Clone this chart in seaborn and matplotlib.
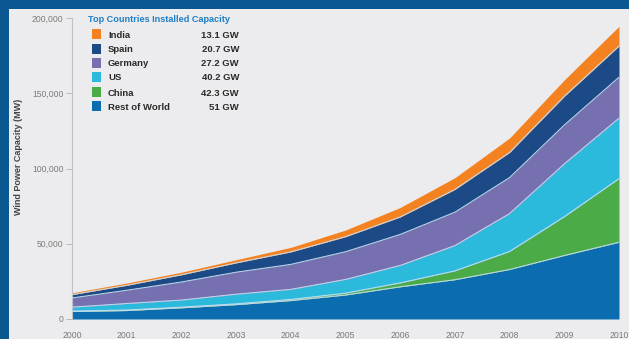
import numpy as np
import pandas as pd
import matplotlib
matplotlib.use("Agg")
import matplotlib.pyplot as plt
from matplotlib.patches import Rectangle
import seaborn as sns

# ---------------- data ----------------
years = [2000, 2001, 2002, 2003, 2004, 2005, 2006, 2007, 2008, 2009, 2010]
rest_of_world = [4950, 5600, 7430, 9530, 12240, 15940, 21400, 26100, 32900, 42200, 51000]
china = [350, 400, 470, 570, 760, 1260, 2600, 5900, 12000, 25800, 42300]
us = [2600, 4300, 4700, 6400, 6700, 9100, 11600, 16800, 25200, 35100, 40200]
germany = [6100, 8800, 12000, 14600, 16600, 18400, 20600, 22200, 23900, 25800, 27200]
spain = [2200, 3300, 4800, 6200, 8300, 10000, 11600, 15100, 16700, 19100, 20700]
india = [1200, 1500, 1700, 2100, 3000, 4400, 6300, 7800, 9600, 10900, 13100]

legend_title = "Top Countries Installed Capacity"
legend_names = ["India", "Spain", "Germany", "US", "China", "Rest of World"]
legend_values = ["13.1 GW", "20.7 GW", "27.2 GW", "40.2 GW", "42.3 GW", "51 GW"]
y_ticks = [0, 50000, 100000, 150000, 200000]
y_tick_labels = ["0", "50,000", "100,000", "150,000", "200,000"]
y_label = "Wind Power Capacity (MW)"

# ---------------- style ----------------
col_row = "#0b6cb0"
col_china = "#4aab47"
col_us = "#2bb9dc"
col_germany = "#7670b1"
col_spain = "#1c4a86"
col_india = "#f58220"
layer_colors = [col_row, col_china, col_us, col_germany, col_spain, col_india]
legend_colors = [col_india, col_spain, col_germany, col_us, col_china, col_row]

sns.set_theme(style="white")
plt.rcParams["font.family"] = ["Liberation Sans", "DejaVu Sans"]

W, H = 629, 339
fig = plt.figure(figsize=(W / 100, H / 100), dpi=100)
fig.patch.set_facecolor("#0b5791")
# light panel
panel = Rectangle((9 / W, 0), 1 - 9 / W, (H - 9) / H,
                  transform=fig.transFigure, facecolor="#ececee",
                  edgecolor="none", zorder=-10)
fig.patches.append(panel)

x0, x1 = 72, 619
yb, yt = 319, 18
ax = fig.add_axes([x0 / W, (H - yb) / H, (x1 - x0) / W, (yb - yt) / H])
ax.set_zorder(2)
ax.set_facecolor("none")

layers = [rest_of_world, china, us, germany, spain, india]
ax.stackplot(years, *layers, colors=layer_colors, linewidth=0, zorder=2)

# boundary lines between layers via seaborn
cum = np.cumsum(np.array(layers, dtype=float), axis=0)
df = pd.DataFrame({"year": np.tile(years, 5), "value": cum[:5].ravel(),
                   "layer": np.repeat(np.arange(5), len(years))})
sns.lineplot(data=df, x="year", y="value", units="layer", estimator=None,
             color="#c4dcf0", linewidth=0.7, ax=ax, zorder=3, legend=False)

ax.set_xlim(2000, 2010)
ax.set_ylim(0, 200000)
ax.set_xticks(years)
ax.set_xticklabels([str(y) for y in years], fontsize=6.2, color="#7a7a7a")
ax.set_yticks(y_ticks)
ax.set_yticklabels(y_tick_labels, fontsize=6.2, color="#7a7a7a")
ax.tick_params(axis="y", left=True, length=4, width=0.6, color="#b0b0b0", pad=2)
ax.tick_params(axis="x", bottom=False, pad=3)
ax.set_xlabel("")
ax.set_ylabel("")
for s in ["top", "right", "bottom"]:
    ax.spines[s].set_visible(False)
ax.spines["left"].set_color("#c0c0c0")
ax.spines["left"].set_linewidth(0.8)
ax.grid(False)

fig.text(19 / W, 1 - 157 / H, y_label, rotation=90, ha="center", va="center",
         fontsize=6.5, fontweight="bold", color="#444444", zorder=5)

# legend (manual)
fig.text(88 / W, 1 - 18 / H, legend_title, ha="left", va="center_baseline",
         fontsize=6.6, fontweight="bold", color="#1f7fc4", zorder=5)
row_y = [34, 49, 63, 77, 92, 106]
for name, val, c, yy in zip(legend_names, legend_values, legend_colors, row_y):
    fig.patches.append(Rectangle((92 / W, 1 - (yy + 4.5) / H), 9 / W, 9 / H,
                                 transform=fig.transFigure, facecolor=c,
                                 edgecolor="none", zorder=5))
    fig.text(108 / W, 1 - yy / H, name, ha="left", va="center_baseline",
             fontsize=6.8, fontweight="bold", color="#2a2a2a", zorder=5)
    fig.text(239 / W, 1 - yy / H, val, ha="right", va="center_baseline",
             fontsize=6.8, fontweight="bold", color="#2a2a2a", zorder=5)

fig.savefig("out.png", dpi=100, facecolor=fig.get_facecolor())
